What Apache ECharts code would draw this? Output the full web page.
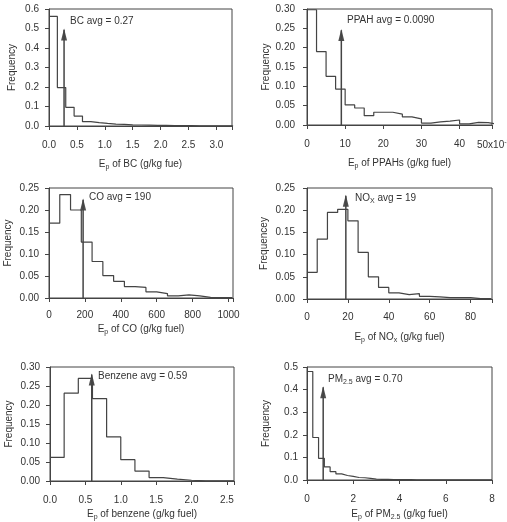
<!DOCTYPE html>
<html>
<head>
<meta charset="utf-8">
<script src="https://cdn.jsdelivr.net/npm/echarts@6/dist/echarts.min.js"></script>
<style>
  html, body { margin: 0; padding: 0; background: #fff; }
  #main { width: 507px; height: 522px; }
</style>
</head>
<body>
<div id="main"></div>
<script>
// frequency per bin
const bcFreq = [0.562, 0.197, 0.096, 0.051, 0.022, 0.017, 0.013, 0.010, 0.008, 0.006, 0.005, 0.004, 0.003, 0.003, 0.002, 0.002, 0.0015, 0.001, 0.001, 0.001, 0.001, 0.001];
const ppahFreq = [0.298, 0.19, 0.126, 0.093, 0.052, 0.044, 0.024, 0.033, 0.033, 0.028, 0.021, 0.016, 0.005, 0.008, 0.010, 0.013, 0.003, 0.007, 0.006, 0.002];
const coFreq = [0.17, 0.235, 0.2, 0.127, 0.083, 0.051, 0.038, 0.026, 0.024, 0.014, 0.010, 0.005, 0.007, 0.005, 0.0015, 0.001, 0.001];
const noxFreq = [0.06, 0.135, 0.195, 0.202, 0.176, 0.105, 0.05, 0.026, 0.014, 0.010, 0.012, 0.006, 0.005, 0.003, 0.003, 0.003, 0.001, 0.001];
const benzFreq = [0.062, 0.231, 0.27, 0.217, 0.116, 0.056, 0.026, 0.009, 0.005, 0.002, 0.0005, 0.0003, 0.0002];
const pmFreq = [0.48, 0.188, 0.096, 0.058, 0.037, 0.027, 0.020, 0.016, 0.011, 0.010, 0.007, 0.004, 0.003, 0.003, 0.002, 0.002, 0.002, 0.0015, 0.001, 0.001, 0.001, 0.001, 0.001, 0.001, 0.001, 0.001, 0.001, 0.001, 0.001, 0.001, 0.001, 0.001];

// bin widths
const bcBin = 0.15, ppahBin = 2.5, coBin = 60, noxBin = 5, benzBin = 0.2, pmBin = 0.25;

// averages and arrow tops
const avgs = [0.27, 9, 190, 19, 0.59, 0.70];
const arrowTops = [0.50, 0.248, 0.226, 0.235, 0.283, 0.415];
const avgTexts = ['BC avg = 0.27', 'PPAH avg = 0.0090', 'CO avg = 190', 'NO{sub|X} avg = 19', 'Benzene avg = 0.59', 'PM{sub|2.5} avg = 0.70'];

const xNames = [
  'E{sub|p} of BC (g/kg fue)',
  'E{sub|p} of PPAHs (g/kg fuel)',
  'E{sub|p} of CO (g/kg fuel)',
  'E{sub|p} of NO{sub|x} (g/kg fuel)',
  'E{sub|p} of benzene (g/kg fuel)',
  'E{sub|p} of PM{sub|2.5} (g/kg fuel)'
];
const yNames = ['Frequency', 'Frequency', 'Frequency', 'Frequencey', 'Frequency', 'Frequency'];

const xMax = [3.28, 48.5, 1025, 90.5, 2.6, 8];
const xStep = [0.5, 10, 200, 20, 0.5, 2];
const xDec = [1, 0, 0, 0, 1, 0];
const yMax = [0.6, 0.30, 0.25, 0.25, 0.30, 0.5];
const yStep = [0.1, 0.05, 0.05, 0.05, 0.05, 0.1];
const yDec = [1, 2, 2, 2, 2, 1];

const freqs = [bcFreq, ppahFreq, coFreq, noxFreq, benzFreq, pmFreq];
const bins = [bcBin, ppahBin, coBin, noxBin, benzBin, pmBin];

const grids = [
  { left: 49, top: 9, width: 183, height: 117 },
  { left: 307, top: 9, width: 185, height: 116 },
  { left: 49, top: 188, width: 184, height: 110 },
  { left: 307, top: 188, width: 185, height: 111 },
  { left: 50, top: 367, width: 184, height: 118 },
  { left: 307, top: 367, width: 185, height: 117 }
];
const xLabMargin = [14, 14, 12, 13, 14, 14];
const xNameGap = [32, 32, 25, 32, 27, 28];
const yLabMargin = [10, 12, 10, 12, 10, 9];
const yNameGap = [32, 36, 36, 38, 36, 36];

// where the avg texts sit
const textPos = [[70, 23], [347, 22], [89, 199], [355, 200], [98, 378], [328, 381]];

const lineCol = '#444';
const textCol = '#333';
const subStyle = { fontSize: 7, padding: [6, 0, 0, 0], color: textCol };

function stepData(f, w) {
    var d = [];
    for (var i = 0; i < f.length; i++) {
        d.push([i * w, f[i]]);
    }
    d.push([f.length * w, f[f.length - 1]]);
    d.push([f.length * w, 0]);
    return d;
}

function isTick(v, step) {
    var r = v / step;
    return Math.abs(r - Math.round(r)) < 1e-6;
}

var option = {
    animation: false,
    backgroundColor: '#fff',
    textStyle: { fontFamily: 'Liberation Sans, Arial, sans-serif' },
    grid: [],
    xAxis: [],
    yAxis: [],
    series: [],
    graphic: []
};

for (var k = 0; k < 6; k++) {
    var g = grids[k];
    option.grid.push({
        left: g.left, top: g.top, width: g.width, height: g.height,
        show: true, borderColor: lineCol, borderWidth: 1
    });
    (function (k) {
        option.xAxis.push({
            gridIndex: k, type: 'value', min: 0, max: xMax[k], interval: xStep[k],
            splitLine: { show: false },
            axisLine: { onZero: false, lineStyle: { color: lineCol } },
            axisTick: { lineStyle: { color: lineCol }, length: 4 },
            axisLabel: {
                color: textCol, fontSize: 10, margin: xLabMargin[k],
                showMaxLabel: true,
                formatter: function (v) {
                    if (!isTick(v, xStep[k])) return '';
                    return v.toFixed(xDec[k]);
                }
            },
            name: xNames[k], nameLocation: 'middle', nameGap: xNameGap[k],
            nameTextStyle: { color: textCol, fontSize: 10, rich: { sub: subStyle } }
        });
        option.yAxis.push({
            gridIndex: k, type: 'value', min: 0, max: yMax[k], interval: yStep[k],
            splitLine: { show: false },
            axisLine: { show: true, lineStyle: { color: lineCol } },
            axisTick: { show: true, lineStyle: { color: lineCol }, length: 4 },
            axisLabel: {
                color: textCol, fontSize: 10, margin: yLabMargin[k],
                formatter: function (v) { return v.toFixed(yDec[k]); }
            },
            name: yNames[k], nameLocation: 'middle', nameGap: yNameGap[k],
            nameTextStyle: { color: textCol, fontSize: 10 }
        });
    })(k);

    // histogram outline
    option.series.push({
        type: 'line', xAxisIndex: k, yAxisIndex: k,
        step: 'end', symbol: 'none',
        lineStyle: { color: lineCol, width: 1.2 },
        data: stepData(freqs[k], bins[k])
    });
    // avg arrow shaft
    option.series.push({
        type: 'line', xAxisIndex: k, yAxisIndex: k, symbol: 'none',
        lineStyle: { color: lineCol, width: 1.5 },
        data: [[avgs[k], 0], [avgs[k], arrowTops[k] - 0.01 * yMax[k]]]
    });
    // arrow head
    option.series.push({
        type: 'scatter', xAxisIndex: k, yAxisIndex: k,
        symbol: 'triangle', symbolSize: [6, 12], symbolOffset: [0, '50%'],
        itemStyle: { color: '#222' },
        data: [[avgs[k], arrowTops[k]]]
    });

    option.graphic.push({
        type: 'text', left: textPos[k][0], top: textPos[k][1] - 7,
        style: {
            text: avgTexts[k], fill: textCol, fontSize: 10,
            fontFamily: 'Liberation Sans, Arial, sans-serif',
            rich: { sub: { fontSize: 7, padding: [6, 0, 0, 0], fill: textCol } }
        }
    });
}

// exponent label at end of PPAH axis
option.graphic.push({
    type: 'text', left: 477, top: 139,
    style: {
        text: '50x10{sup|-3}', fill: textCol, fontSize: 10,
        fontFamily: 'Liberation Sans, Arial, sans-serif',
        rich: { sup: { fontSize: 7, padding: [0, 0, 6, 0], fill: textCol } }
    }
});

var myChart = echarts.init(document.getElementById('main'));
myChart.setOption(option);
</script>
</body>
</html>
